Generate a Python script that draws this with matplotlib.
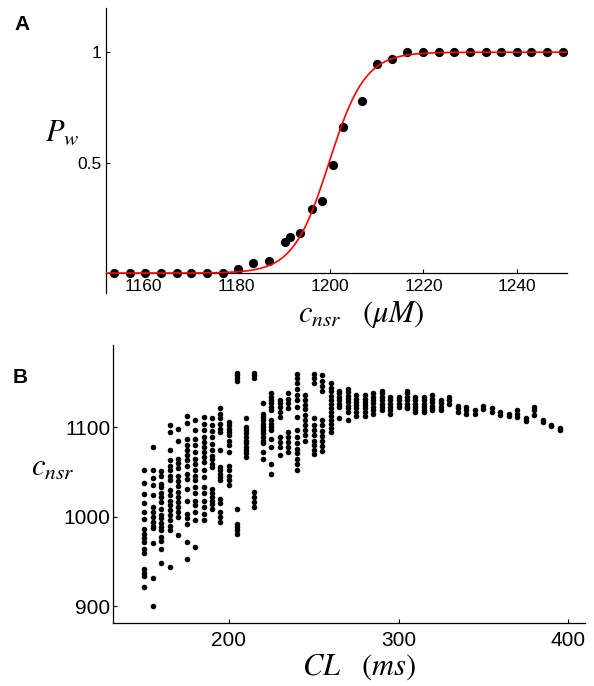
import numpy as np
import matplotlib
matplotlib.use("Agg")
import matplotlib.pyplot as plt

plt.rcParams['font.family'] = ['Liberation Sans', 'DejaVu Sans']
plt.rcParams['mathtext.fontset'] = 'stix'

# Panel A: probability of wave vs c_nsr
pa_x = [1153.8, 1157.2, 1160.4, 1163.9, 1167.3, 1170.3, 1173.7, 1177.1,
        1180.4, 1183.6, 1187.0, 1190.4, 1191.4, 1193.7, 1196.1, 1198.4,
        1200.7, 1202.8, 1206.8, 1210.1, 1213.3,
        1216.5, 1220.0, 1223.3, 1226.6, 1230.0, 1233.3, 1236.5, 1239.9,
        1243.1, 1246.4, 1249.9]
pa_y = [0, 0, 0, 0, 0, 0, 0, 0,
        0.018, 0.044, 0.055, 0.142, 0.165, 0.183, 0.29, 0.327,
        0.49, 0.66, 0.78, 0.945, 0.968,
        1, 1, 1, 1, 1, 1, 1, 1, 1, 1, 1]
fit_x0 = 1199.8   # sigmoid fit centre
fit_k = 0.26      # sigmoid fit slope
pa_xticks = [1160, 1180, 1200, 1220, 1240]

# Panel B: c_nsr values read per cycle length column
cl_values = [150, 155, 160, 165, 170, 175, 180, 185, 190, 195,
             200, 205, 210, 215, 220, 225, 230, 235, 240, 245,
             250, 255, 260, 265, 270, 275, 280, 285, 290, 295,
             300, 305, 310, 315, 320, 325, 330, 335, 340, 345,
             350, 355, 360, 365, 370, 375, 380, 385, 390, 395]
cnsr_cols = [
    [1052, 1038, 1025, 1015, 1005, 997, 986, 981, 976, 972, 964, 959, 941, 937, 934, 921],
    [1078, 1052, 1043, 1035, 1024, 1011, 1005, 1000, 994, 990, 987, 970, 931, 900],
    [1051, 1045, 1037, 1033, 1026, 1022, 1016, 1008, 1002, 998, 993, 988, 985, 977, 973, 964, 948],
    [1102, 1095, 1074, 1063, 1057, 1052, 1046, 1041, 1030, 1024, 1018, 1013, 1007, 1002, 996, 990, 985, 944],
    [1098, 1085, 1065, 1060, 1054, 1046, 1040, 1034, 1028, 1022, 1016, 1011, 1005, 1000, 980],
    [1113, 1105, 1087, 1080, 1074, 1069, 1063, 1057, 1048, 1042, 1031, 1018, 1003, 998, 992, 972, 953],
    [1108, 1097, 1087, 1080, 1072, 1065, 1059, 1052, 1046, 1041, 1033, 1026, 1018, 1013, 1005, 996, 966],
    [1112, 1104, 1097, 1089, 1084, 1078, 1072, 1067, 1061, 1052, 1044, 1033, 1026, 1018, 1011, 1003, 996],
    [1110, 1102, 1096, 1089, 1081, 1074, 1068, 1065, 1059, 1056, 1031, 1026, 1022, 1018, 1014, 1009],
    [1121, 1115, 1110, 1104, 1098, 1095, 1074, 1056, 1052, 1048, 1044, 1041, 1020, 1015, 1005, 1000, 994],
    [1106, 1102, 1098, 1095, 1091, 1085, 1080, 1072, 1057, 1052, 1046, 1041, 1035],
    [1161, 1158, 1155, 1152, 1009, 992, 988, 985, 981],
    [1110, 1100, 1097, 1093, 1089, 1085, 1082, 1078, 1074, 1071, 1067],
    [1161, 1158, 1155, 1028, 1022, 1016, 1011],
    [1127, 1115, 1112, 1108, 1104, 1100, 1097, 1093, 1089, 1085, 1082, 1072, 1065],
    [1138, 1134, 1130, 1127, 1123, 1119, 1108, 1104, 1100, 1097, 1087, 1078, 1059, 1048],
    [1130, 1127, 1123, 1117, 1112, 1089, 1084, 1078, 1069],
    [1138, 1132, 1127, 1121, 1095, 1089, 1084, 1078, 1072],
    [1160, 1155, 1149, 1143, 1136, 1130, 1123, 1112, 1097, 1089, 1082, 1076, 1071, 1065, 1059, 1052],
    [1136, 1131, 1125, 1120, 1114, 1108, 1103, 1097, 1091, 1085],
    [1160, 1155, 1150, 1110, 1103, 1097, 1091, 1085, 1080, 1075, 1070],
    [1158, 1152, 1146, 1140, 1108, 1102, 1096, 1090, 1085, 1079, 1073],
    [1149, 1144, 1140, 1135, 1131, 1126, 1122, 1117, 1113, 1108, 1104, 1099, 1095],
    [1141, 1138, 1134, 1130, 1126, 1123, 1110],
    [1143, 1139, 1135, 1132, 1128, 1124, 1121, 1117, 1108],
    [1136, 1132, 1128, 1125, 1121, 1117, 1113],
    [1136, 1132, 1128, 1125, 1121, 1117, 1113],
    [1138, 1134, 1130, 1127, 1123, 1119, 1115],
    [1141, 1138, 1134, 1130, 1126, 1123, 1119],
    [1134, 1130, 1126, 1123, 1119, 1115],
    [1134, 1130, 1126, 1123],
    [1141, 1138, 1134, 1130, 1126, 1123, 1121],
    [1134, 1130, 1126, 1123, 1119, 1117],
    [1134, 1130, 1126, 1123, 1119, 1117],
    [1136, 1132, 1128, 1124, 1121, 1119],
    [1130, 1127, 1123, 1119],
    [1134, 1130, 1126],
    [1124, 1121, 1117],
    [1123, 1119, 1115],
    [1119, 1115],
    [1124, 1120],
    [1121, 1117],
    [1117, 1114],
    [1115, 1113],
    [1119, 1115, 1111],
    [1110, 1107],
    [1123, 1119, 1114],
    [1108, 1106],
    [1103, 1101],
    [1099, 1097],
]

W, H = 594, 686
fig = plt.figure(figsize=(W / 100, H / 100), dpi=100)


def box(x0, y0, x1, y1):
    # pixel box -> figure fraction rect
    return [x0 / W, 1 - y1 / H, (x1 - x0) / W, (y1 - y0) / H]


# ---- panel A
axA = fig.add_axes(box(106, 8, 567, 293))
axA.scatter(pa_x, pa_y, s=44, color='black', linewidths=0, zorder=2)
xx = np.linspace(1150, 1252, 500)
axA.plot(xx, 1 / (1 + np.exp(-fit_k * (xx - fit_x0))), color='red', lw=1.2, zorder=3)
axA.set_xlim(1152.1, 1250.7)
axA.set_ylim(-0.09, 1.2)
axA.spines['top'].set_visible(False)
axA.spines['right'].set_visible(False)
axA.spines['bottom'].set_position(('data', 0))
axA.set_xticks(pa_xticks)
axA.set_xticklabels([str(t) for t in pa_xticks])
axA.set_yticks([0.5, 1])
axA.set_yticklabels(['0.5', '1'])
axA.tick_params(direction='in', length=3, width=0.8, labelsize=12.5)
axA.tick_params(axis='x', pad=4)
axA.tick_params(axis='y', pad=3)
for s in axA.spines.values():
    s.set_linewidth(0.9)

fig.text(14 / W, 1 - 25 / H, 'A', fontsize=15, weight='bold', ha='left', va='center')
fig.text(62 / W, 1 - 133 / H, r'$P_w$', fontsize=22, ha='center', va='center')
fig.text(361 / W, 1 - 314 / H, r'$c_{nsr}\quad(\mu M)$', fontsize=22, ha='center', va='center')

# ---- panel B
axB = fig.add_axes(box(113, 345, 585, 623))
for cl, col in zip(cl_values, cnsr_cols):
    axB.scatter([cl] * len(col), col, s=16, color='black', linewidths=0)
axB.set_xlim(131.6, 410)
axB.set_ylim(881, 1192)
axB.spines['top'].set_visible(False)
axB.spines['right'].set_visible(False)
axB.set_xticks([200, 300, 400])
axB.set_yticks([900, 1000, 1100])
axB.tick_params(direction='in', length=3, width=0.8, labelsize=15)
axB.tick_params(axis='x', pad=6)
axB.tick_params(axis='y', pad=2)
for s in axB.spines.values():
    s.set_linewidth(0.9)

fig.text(13 / W, 1 - 378 / H, 'B', fontsize=15, weight='bold', ha='left', va='center')
fig.text(53 / W, 1 - 468 / H, r'$c_{nsr}$', fontsize=22, ha='center', va='center')
fig.text(359 / W, 1 - 667 / H, r'$CL\quad(ms)$', fontsize=22, ha='center', va='center')

fig.savefig('out.png', dpi=100)
